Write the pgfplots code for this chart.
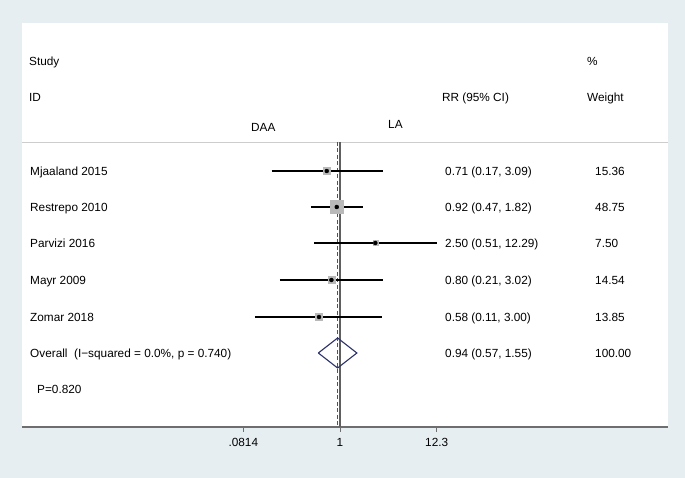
\documentclass[border=0pt]{standalone}
\usepackage{fontspec}
\setmainfont{Liberation Sans}
\usepackage{pgfplots}
\pgfplotsset{compat=1.18}
\usepackage{pgfplotstable}

\definecolor{bggray}{RGB}{231,238,241}
\definecolor{boxgray}{RGB}{185,185,185}
\definecolor{axisgray}{RGB}{110,110,110}
\definecolor{sepgray}{RGB}{205,205,205}
\definecolor{refgray}{RGB}{95,95,95}
\definecolor{maroon}{RGB}{160,50,55}
\definecolor{navy}{RGB}{45,50,105}

% rr, CI, weight, row height (bp from bottom)
\pgfplotstableread{
rr   lo   hi    w     y
0.71 0.17 3.09  15.36 307
0.92 0.47 1.82  48.75 271
2.50 0.51 12.29 7.50  235
0.80 0.21 3.02  14.54 198
0.58 0.11 3.00  13.85 161
}\studies

% text at relative x, vertical centre y
\newcommand{\txt}[3]{\node[anchor=base west, yshift=-4.2bp, inner sep=0pt]
  at ({rel axis cs:#1,0}|-{axis cs:1,#2}) {#3};}

\begin{document}
\begin{tikzpicture}[font=\fontsize{11.8bp}{14bp}\selectfont]
\path[use as bounding box] (0,0) rectangle (685bp,478bp);
\fill[bggray] (0,0) rectangle (685bp,478bp);
\fill[white] (22bp,51bp) rectangle (668bp,455bp);
\begin{axis}[
    at={(22bp,51bp)}, anchor=south west,
    scale only axis, width=646bp, height=404bp,
    xmode=log, xmin=2.606e-4, xmax=4977,
    ymin=51, ymax=455,
    axis x line=bottom, axis y line=none,
    axis line style={-, draw=axisgray, line width=1.6bp},
    xtick={0.0814,1,12.3}, xticklabels={.0814,1,12.3},
    tick align=outside, major tick length=5bp,
    tick style={draw=axisgray, line width=0.8bp},
    xticklabel style={font=\fontsize{11.8bp}{14bp}\selectfont, yshift=-3bp},
    /pgf/number format/assume math mode=true,
    clip=false,
]
% separator under the header
\addplot[sepgray, line width=0.8bp] coordinates {(2.606e-4,336) (4977,336)};
% line of no effect and overall estimate
\addplot[refgray, line width=1.3bp] coordinates {(1,336) (1,51)};
\addplot[maroon, line width=0.9bp, dash pattern=on 4bp off 2.5bp] coordinates {(0.94,336) (0.94,51)};

% weight boxes
\addplot[scatter, only marks, mark=square*,
    scatter/use mapped color={draw=boxgray, fill=boxgray},
    visualization depends on={0.93*sqrt(\thisrow{w}) \as \hs},
    scatter/@pre marker code/.append style={/tikz/mark size=\hs}]
    table[x=rr, y=y] {\studies};

% confidence intervals
\addplot[black, line width=1.3bp] coordinates {(0.17,307) (3.09,307)};
\addplot[black, line width=1.3bp] coordinates {(0.47,271) (1.82,271)};
\addplot[black, line width=1.3bp] coordinates {(0.51,235) (12.29,235)};
\addplot[black, line width=1.3bp] coordinates {(0.21,198) (3.02,198)};
\addplot[black, line width=1.3bp] coordinates {(0.11,161) (3.00,161)};

% point estimates
\addplot[only marks, mark=*, mark size=2bp, draw=black, fill=black] table[x=rr, y=y] {\studies};

% pooled diamond
\addplot[navy, line width=1.1bp] coordinates {(0.57,125) (0.94,140) (1.55,125) (0.94,110) (0.57,125)};

% header
\txt{0.0108}{417}{Study}
\txt{0.0108}{381}{ID}
\txt{0.650}{381}{RR (95\% CI)}
\txt{0.8746}{417}{\%}
\txt{0.8746}{381}{Weight}
\txt{0.3545}{351}{DAA}
\txt{0.5666}{354}{LA}

% rows
\txt{0.0124}{307}{Mjaaland 2015}
\txt{0.0124}{271}{Restrepo 2010}
\txt{0.0124}{235}{Parvizi 2016}
\txt{0.0124}{198}{Mayr 2009}
\txt{0.0124}{161}{Zomar 2018}
\txt{0.0124}{125}{Overall\ \ (I−squared = 0.0\%, p = 0.740)}
\txt{0.0232}{89}{P=0.820}

\txt{0.6548}{307}{0.71 (0.17, 3.09)}
\txt{0.6548}{271}{0.92 (0.47, 1.82)}
\txt{0.6548}{235}{2.50 (0.51, 12.29)}
\txt{0.6548}{198}{0.80 (0.21, 3.02)}
\txt{0.6548}{161}{0.58 (0.11, 3.00)}
\txt{0.6548}{125}{0.94 (0.57, 1.55)}

\txt{0.887}{307}{15.36}
\txt{0.887}{271}{48.75}
\txt{0.887}{235}{7.50}
\txt{0.887}{198}{14.54}
\txt{0.887}{161}{13.85}
\txt{0.887}{125}{100.00}
\end{axis}
\end{tikzpicture}
\end{document}
